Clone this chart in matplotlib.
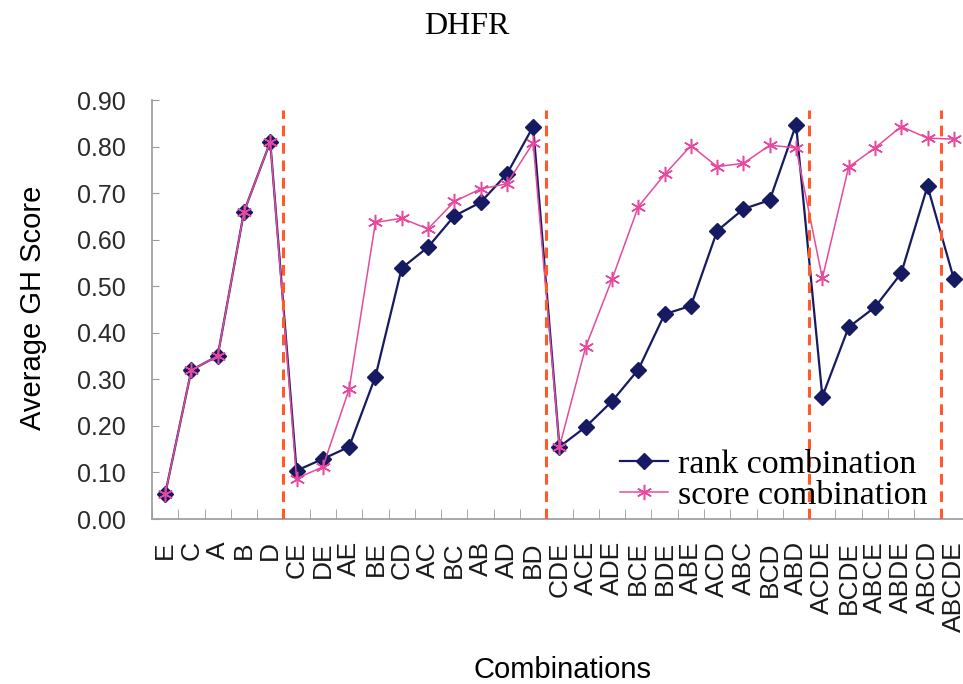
import numpy as np
import matplotlib
matplotlib.use('Agg')
import matplotlib.pyplot as plt

# data
combos = ['E', 'C', 'A', 'B', 'D',
          'CE', 'DE', 'AE', 'BE', 'CD', 'AC', 'BC', 'AB', 'AD', 'BD',
          'CDE', 'ACE', 'ADE', 'BCE', 'BDE', 'ABE', 'ACD', 'ABC', 'BCD', 'ABD',
          'ACDE', 'BCDE', 'ABCE', 'ABDE', 'ABCD', 'ABCDE']
rank_comb = [0.053, 0.32, 0.35, 0.66, 0.81,
             0.104, 0.129, 0.155, 0.306, 0.539, 0.584, 0.651, 0.680, 0.741, 0.843,
             0.155, 0.198, 0.253, 0.321, 0.440, 0.458, 0.619, 0.666, 0.685, 0.847,
             0.263, 0.412, 0.455, 0.528, 0.715, 0.516]
score_comb = [0.053, 0.32, 0.35, 0.66, 0.81,
              0.087, 0.112, 0.279, 0.637, 0.646, 0.623, 0.682, 0.709, 0.720, 0.808,
              0.155, 0.370, 0.515, 0.671, 0.740, 0.802, 0.757, 0.764, 0.803, 0.797,
              0.517, 0.756, 0.797, 0.843, 0.818, 0.816]
group_breaks = [4.5, 14.5, 24.5, 29.5]
yticks = np.arange(0, 0.91, 0.1)

sans = 'Liberation Sans'
serif = 'Liberation Serif'
navy = '#161a62'
pink = '#e54a9e'
red = '#ff5a2a'

fig = plt.figure(figsize=(9.63, 6.84), dpi=100)
ax = fig.add_axes([0.1578, 0.2412, 0.8463, 0.6126])

x = np.arange(len(combos))
ax.plot(x, rank_comb, '-', color=navy, lw=1.6, marker='D', ms=8,
        label='rank combination', zorder=3)
ax.plot(x, score_comb, '-', color=pink, lw=1.1, marker=(6, 2, 0), ms=11,
        mew=1.1, label='score combination', zorder=4)

for b in group_breaks:
    ax.axvline(b, ymin=0, ymax=0.977, color=red, lw=2.2, ls=(0, (3.5, 2.2)), zorder=5)

ax.set_xlim(-0.5, len(combos) - 0.5)
ax.set_ylim(0, 0.9)
ax.set_yticks(yticks)
ax.set_yticklabels(['%.2f' % v for v in yticks], fontsize=18, family=sans, color='#2a2a2a')
ax.set_xticks(x)
ax.set_xticklabels(combos, rotation=90, fontsize=19, family=sans, color='#1a1a1a')
ax.set_xticks(np.arange(-0.5, len(combos), 1), minor=True)
ax.tick_params(axis='x', which='major', length=0, pad=16)
ax.tick_params(axis='x', which='minor', direction='in', length=7, color='#999999')
ax.tick_params(axis='y', direction='in', length=5, color='#999999', pad=19)

for s in ['top', 'right']:
    ax.spines[s].set_visible(False)
for s in ['left', 'bottom']:
    ax.spines[s].set_color('#a0a0a0')
    ax.spines[s].set_linewidth(1.3)

fig.text(467 / 963, 1 - 26 / 684, 'DHFR', family=serif, fontsize=23,
         ha='center', va='center')
fig.text(33 / 963, 1 - 308 / 684, 'Average GH Score', family=sans, fontsize=21,
         rotation=90, ha='center', va='center')
fig.text(562 / 963, 1 - 670 / 684, 'Combinations', family=sans, fontsize=21,
         ha='center', va='center')

leg = ax.legend(loc='center left', bbox_to_anchor=(620 / 963, 1 - 480 / 684),
                bbox_transform=fig.transFigure, frameon=False,
                prop={'family': serif, 'size': 24.5}, handlelength=1.4,
                handletextpad=0.3, labelspacing=0.0, borderpad=0, borderaxespad=0)
leg.set_zorder(6)

fig.savefig('out.png', dpi=100)
